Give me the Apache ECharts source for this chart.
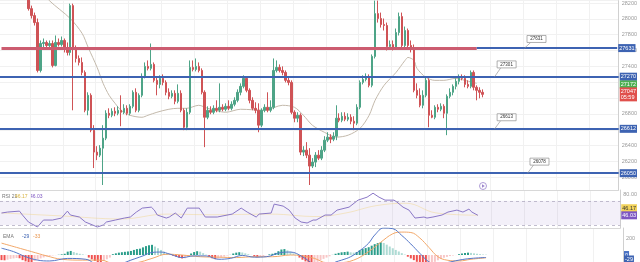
<!DOCTYPE html>
<html><head><meta charset="utf-8">
<script src="https://cdn.jsdelivr.net/npm/echarts/dist/echarts.min.js"></script>
<style>html,body{margin:0;padding:0;background:#fff;overflow:hidden}#c{width:640px;height:262px}</style>
</head><body><div id="c"></div>
<script>
// ---------- DATA ----------
const categoryCount = 207;
const categories = Array.from({length: categoryCount}, (_, i) => String(i));
const candleStartIndex = 9;
// [open, close, low, high]
const candles = [
[28293,28129,28104,28356],[28129,28041,28004,28167],[28041,27953,27916,28079],[27953,27349,27324,28004],
[27349,27689,27324,27727],[27689,27702,27626,27752],[27702,27664,27639,27727],[27664,27689,27639,27727],
[27689,27412,27387,27727],[27412,27702,27400,27790],[27702,27676,27651,27752],[27676,27727,27651,27777],
[27727,27626,27576,27752],[27626,27576,27538,27702],[27576,28167,27538,28192],[28167,27626,26846,28192],
[27626,27500,27450,27664],[27500,27450,27412,27538],[27450,27324,27287,27513],[27324,26846,26821,27349],
[26846,27035,26783,27073],[27035,26595,26569,27060],[26595,26318,26117,26658],[26318,26280,26217,26393],
[26280,26368,26255,26406],[26368,26494,25903,26658],[26494,26808,26469,26846],[26808,26783,26746,26871],
[26783,26834,26758,26871],[26834,26808,26771,26884],[26808,26846,26783,26896],[26846,26821,26645,27035],
[26821,26871,26796,26922],[26871,26808,26783,26909],[26808,26896,26783,26922],[26896,27073,26871,27098],
[27073,26846,26821,27123],[26846,27035,26821,27060],[27035,27274,27010,27312],[27274,27400,27249,27450],
[27400,27375,27349,27475],[27375,27425,27349,27689],[27425,27224,27198,27450],[27224,27173,27035,27274],
[27173,27249,27123,27287],[27249,27198,27161,27299],[27198,27073,27035,27224],[27073,27022,26985,27123],
[27022,27060,26997,27098],[27060,26959,26922,27098],[26959,27060,26934,27173],[27060,26846,26821,27098],
[26846,26632,26595,26871],[26632,26821,26595,26871],[26821,27387,26796,27475],[27387,27362,27337,27475],
[27362,27400,27337,27500],[27400,27349,27324,27450],[27349,27073,27047,27375],[27073,26758,26381,27098],
[26758,26846,26733,26896],[26846,26821,26796,26896],[26821,26871,26796,26909],[26871,26846,26821,26972],
[26846,26884,26821,27186],[26884,26859,26834,26922],[26859,26896,26834,26934],[26896,26871,26846,26972],
[26871,26922,26846,26959],[26922,26972,26896,27010],[26972,27073,26947,27110],[27073,27148,27035,27186],
[27148,27249,27123,27287],[27249,27098,27073,27274],[27098,26972,26934,27123],[26972,26871,26846,27010],
[26871,26846,26808,26947],[26846,26658,26569,26934],[26658,26846,26632,26871],[26846,26884,26821,26922],
[26884,26846,26821,27073],[26846,26884,26821,26972],[26884,27349,26859,27500],[27349,27387,27324,27475],
[27387,27349,27324,27425],[27349,27324,27287,27400],[27324,27224,27198,27349],[27224,27198,27161,27274],
[27198,26821,26796,27224],[26821,26746,26695,26846],[26746,26783,26695,26821],[26783,26318,26280,26808],
[26318,26343,26268,26393],[26343,26280,26242,26444],[26280,26142,25903,26368],[26142,26192,26117,26242],
[26192,26280,26129,26318],[26280,26242,26217,26343],[26242,26343,26217,26393],[26343,26469,26318,26519],
[26469,26507,26444,26569],[26507,26481,26431,26544],[26481,26519,26456,26569],[26519,26746,26469,26909],
[26746,26720,26695,26808],[26720,26771,26695,26821],[26771,26733,26708,26821],[26733,26758,26708,26808],
[26758,26708,26670,26796],[26708,26683,26595,26771],[26683,26884,26658,26922],[26884,27198,26859,27224],
[27198,27236,27173,27287],[27236,27261,27211,27312],[27261,27161,27136,27299],[27161,27526,27136,27551],
[27526,28066,27500,28230],[28066,28004,27953,28230],[28004,27928,27890,28079],[27928,27916,27853,28004],
[27916,27651,27601,27953],[27651,27676,27626,27727],[27676,27639,27601,27727],[27639,27827,27614,27878],
[27827,28029,27790,28079],[28029,27664,27639,28079],[27664,27853,27639,27903],[27853,27664,27626,27878],
[27664,27626,27576,27727],[27626,27098,27073,27676],[27098,27035,26997,27186],[27035,26909,26884,27123],
[26909,27035,26871,27098],[27035,27224,27010,27274],[27224,26783,26632,27249],[26783,26758,26746,26846],
[26758,26884,26733,26909],[26884,26859,26821,26922],[26859,26896,26834,26934],[26896,26808,26746,26922],
[26808,27022,26532,27047],[27022,27073,26997,27123],[27073,27148,27035,27173],[27148,27211,27110,27249],
[27211,27261,27173,27299],[27261,27249,27224,27299],[27249,27173,27136,27287],[27173,27148,27123,27224],
[27148,27324,27123,27349],[27324,27136,27098,27349],[27136,27098,26972,27161],[27098,27073,26997,27136],
[27073,27047,27010,27110]
];
// moving average on price (sparse readings)
const maIdx = [14,16,23,27,29,32,34,36,38,40,43,47,49,52,56,59,62,66,69,75,80,88,94,98,101,104,108,112,116,120,123,125,128,132,135,136,138,139,142,145,148,152,155,159];
const maVal = [28330,28230,28004,27815,27639,27387,27186,27035,26934,26846,26783,26758,26783,26821,26859,26871,26871,26909,26871,26821,26859,26846,26909,26884,26783,26658,26569,26507,26532,26620,26783,26972,27161,27324,27475,27513,27475,27375,27261,27224,27224,27249,27224,27186];
// price levels
const resistanceLevel = 27631;
const levelLines = [27270, 26612, 26052];
const levelLabels = ['27270', '26612', '26050'];
const greenTag = 27172;
const lastPrice = 27047;
const countdown = '05:59';
const calloutText = ['27631', '27301', '26613', '26078'];
const calloutIdx = [179, 169, 169, 180];
const calloutPrice = [27746, 27425, 26758, 26198];
const calloutLineFrom = [[175, 27631], [165, 27270], [165, 26612], [176, 26052]];
const calloutLineTo = [[177, 27700], [167, 27380], [167, 26715], [178, 26155]];
// RSI
const rsiIdx = [0,2,6,7,9,12,14,17,20,22,23,26,28,32,34,35,38,41,43,45,47,50,51,52,55,56,58,60,62,66,68,72,77,80,82,85,86,90,91,94,96,98,100,102,104,105,108,110,112,116,119,122,124,126,128,131,132,134,136,138,141,142,144,147,149,152,154,156,157,159];
const rsiVal = [49.8,51.4,53,46.5,34.9,26.7,38.2,38.2,41.5,53,46.5,43.2,34.9,26.7,30,34.9,38.2,41.5,43.2,51.4,58,59.6,54.7,46.5,41.5,43.2,49.8,41.5,58,58,43.2,43.2,48.1,58,51.4,43.2,48.1,49.8,64.6,61.3,54.7,41.5,34.9,33.3,38.2,38.2,46.5,46.5,54.7,59.6,71.2,76.1,82.7,76.1,71.2,71.2,67.9,59.6,54.7,41.5,43.2,41.5,43.2,46.5,51.4,54.7,51.4,56.3,51.4,46.03];
const rsiMaIdx = [0,20,40,55,70,90,105,115,125,135,145,159];
const rsiMaVal = [50,45,40,48,47,48,44,50,62,66,50,46.17];
const rsiUpper = 70, rsiLower = 30;
// MACD
const histogram = [
-60,-62,-55,-45,-40,-35,-38,-60,-75,-85,-90,-70,-55,-40,-28,-18,-10,-5,-2,3,8,15,40,48,35,25,15,8,2,
-30,-50,-70,-85,-95,-70,-50,-30,10,20,28,33,38,42,48,60,70,75,90,105,115,120,100,80,60,40,20,5,-8,-18,
-30,-40,-38,-20,18,35,45,40,22,5,-20,-38,-48,-42,-30,-18,-6,2,18,28,33,30,20,10,2,-18,-28,-24,-12,
-2,8,15,25,45,65,70,55,40,20,5,-30,-55,-75,-90,-100,-92,-80,-62,-45,-30,-15,2,15,25,32,36,40,32,28,35,
55,70,82,92,110,128,140,150,142,122,100,80,60,42,22,6,-20,-40,-60,-80,-98,-110,-118,-104,-92,-80,
-62,-45,-32,-22,-12,-6,-1,10,18,24,28,25,20,15,10,6,4];
const macdIdx = [0,4,8,12,16,22,28,33,38,43,47,50,53,56,60,64,68,72,76,80,84,88,93,96,100,104,108,111,113,116,119,122,124,127,130,133,136,139,142,145,148,152,156,161];
const macdVal = [80,40,-20,-60,-70,-40,-50,-130,-120,-60,-10,30,35,10,-30,-10,-10,-50,-40,-5,-25,-20,30,35,-20,-110,-130,-82,-60,-20,50,140,235,318,310,230,130,20,-80,-110,-90,-60,-40,-29];
const signalIdx = [0,5,10,15,20,27,33,38,45,50,55,60,66,72,78,84,90,96,100,104,108,112,117,122,126,130,133,136,139,142,145,148,152,156,161];
const signalVal = [140,90,40,-10,-50,-60,-60,-110,-90,-40,10,0,-20,-25,-30,-20,-20,0,-10,-40,-90,-90,-60,40,150,250,270,265,200,90,-20,-60,-70,-50,-33];

// ---------- BUILD ----------
function sparse(idx, val){ const a = new Array(categoryCount).fill(null); idx.forEach((k,j)=>{a[k]=val[j];}); return a; }
const candleData = new Array(categoryCount).fill('-');
candles.forEach((c,j)=>{ candleData[candleStartIndex+j] = c; });
const histData = histogram.map((v,i)=>{
  const p = i>0 ? histogram[i-1] : v;
  let col;
  if (v >= 0) col = v >= p ? '#2a9d8a' : '#aedbd4';
  else col = v <= p ? '#f0514f' : '#f8c6c6';
  return {value: v, itemStyle: {color: col}};
});
const FONT = 'Arial, "Liberation Sans", sans-serif';
const HIDDEN = {color:'rgba(0,0,0,0)', width:0, type:'solid'};
const tagLabel = (txt, bg, fg) => ({show:true, position:'end', distance:1, formatter: txt, color: fg||'#fff', backgroundColor: bg, fontSize: 5.5, fontFamily: FONT, padding:[1,1,1,1], lineHeight: 6, opacity:1});
const vSplit = {show:true, interval:(i)=> i % 11 === 10, lineStyle:{color:'#f1f1f1', width:1}};
const solid = (color, width) => ({color, width, type:'solid', opacity:1});

const mainLines = [
  [{coord:[0, resistanceLevel], lineStyle: solid('#cc5c70', 3)}, {coord:[159, resistanceLevel]}],
  [{coord:[159, resistanceLevel], lineStyle: solid('#3d63b2', 2), label: tagLabel(String(resistanceLevel), '#3d63b2')}, {coord:[categoryCount-1, resistanceLevel]}],
];
levelLines.forEach((v,j)=>{ mainLines.push({yAxis: v, lineStyle: solid('#3d63b2', 2), label: tagLabel(levelLabels[j], '#3d63b2')}); });
mainLines.push({yAxis: greenTag, lineStyle: HIDDEN, label: tagLabel(String(greenTag), '#4caf50')});
mainLines.push({yAxis: lastPrice, lineStyle: HIDDEN, label: tagLabel(lastPrice + '\n' + countdown, '#e0504c')});
calloutLineFrom.forEach((f,j)=>{ mainLines.push([{coord:f, lineStyle: solid('#9a9a9a', 0.7)}, {coord:calloutLineTo[j]}]); });

const option = {
  animation: false,
  backgroundColor: '#ffffff',
  textStyle: {fontFamily: FONT},
  grid: [
    {left:0, right:17, top:0, height:190},
    {left:0, right:17, top:190, height:38},
    {left:0, right:17, top:228, height:34}
  ],
  xAxis: [0,1,2].map(g => ({type:'category', gridIndex:g, data:categories, boundaryGap:true,
    axisLabel:{show:false}, axisTick:{show:false},
    axisLine:{show: g<2, lineStyle:{color:'#d8d8d8', width:1}}, splitLine: vSplit})),
  yAxis: [
    {type:'value', gridIndex:0, position:'right', min:25840, max:28230, minInterval:200, maxInterval:200, scale:true,
      axisLine:{show:true, lineStyle:{color:'#d0d0d0'}}, axisTick:{show:false},
      axisLabel:{fontSize:5.5, color:'#9a9a9a', margin:3, showMinLabel:false, showMaxLabel:false, formatter:(v)=>String(v)},
      splitLine:{lineStyle:{color:'#f1f1f1'}}},
    {type:'value', gridIndex:1, position:'right', min:25, max:88, minInterval:20, maxInterval:20,
      axisLine:{show:true, lineStyle:{color:'#d0d0d0'}}, axisTick:{show:false},
      axisLabel:{fontSize:5.5, color:'#9a9a9a', margin:3, formatter:(v)=> v===80 ? '80.00' : ''},
      splitLine:{show:false}},
    {type:'value', gridIndex:2, position:'right', min:-82, max:318, minInterval:200, maxInterval:200,
      axisLine:{show:true, lineStyle:{color:'#d0d0d0'}}, axisTick:{show:false},
      axisLabel:{fontSize:5.5, color:'#9a9a9a', margin:3, formatter:(v)=> v===200 ? '200' : ''},
      splitLine:{show:false}}
  ],
  series: [
    {type:'line', xAxisIndex:0, yAxisIndex:0, data: sparse(maIdx, maVal), connectNulls:true, showSymbol:false,
      smooth:0.3, lineStyle:{color:'#c3b9ab', width:1}, z:2, silent:true},
    {type:'candlestick', xAxisIndex:0, yAxisIndex:0, data: candleData, barWidth:2, clip:true, z:3,
      itemStyle:{color:'#4ea487', color0:'#cf5356', borderColor:'#4ea487', borderColor0:'#cf5356', borderWidth:1},
      markLine:{silent:true, symbol:['none','none'], animation:false, precision:0, data: mainLines, z:5},
      markPoint:{silent:true, symbol:'rect', symbolSize:[19,7], animation:false,
        itemStyle:{color:'#ffffff', borderColor:'#8c8c8c', borderWidth:0.6},
        label:{show:true, position:'inside', fontSize:4.5, color:'#333', fontFamily:FONT, formatter:(p)=>p.name},
        data: calloutText.map((t,j)=>({name:t, coord:[calloutIdx[j], calloutPrice[j]]}))}
    },
    {type:'line', xAxisIndex:1, yAxisIndex:1, data: sparse(rsiMaIdx, rsiMaVal), connectNulls:true, showSymbol:false,
      smooth:0.4, lineStyle:{color:'#f0d58c', width:0.8, opacity:0.6}, silent:true},
    {type:'line', xAxisIndex:1, yAxisIndex:1, data: sparse(rsiIdx, rsiVal), connectNulls:true, showSymbol:false,
      lineStyle:{color:'#8a77c6', width:1}, silent:true,
      markArea:{silent:true, itemStyle:{color:'rgba(126,87,194,0.09)'}, data:[[{yAxis:rsiLower},{yAxis:rsiUpper}]]},
      markLine:{silent:true, symbol:['none','none'], precision:2, data:[
        {yAxis:rsiUpper, lineStyle:{color:'#a9a3bb', type:[3,3], width:0.7}, label:{show:false}},
        {yAxis:rsiLower, lineStyle:{color:'#a9a3bb', type:[3,3], width:0.7}, label:{show:false}},
        {yAxis:46.17, lineStyle: HIDDEN, label: Object.assign(tagLabel('46.17', '#f2d35b', '#333'), {offset:[0,-7]})},
        {yAxis:46.03, lineStyle: HIDDEN, label: tagLabel('46.03', '#7e57c2')}
      ]}},
    {type:'bar', xAxisIndex:2, yAxisIndex:2, data: histData, barWidth:2, clip:true, silent:true},
    {type:'line', xAxisIndex:2, yAxisIndex:2, data: sparse(signalIdx, signalVal), connectNulls:true, showSymbol:false,
      smooth:0.4, lineStyle:{color:'#f2a86a', width:1}, silent:true},
    {type:'line', xAxisIndex:2, yAxisIndex:2, data: sparse(macdIdx, macdVal), connectNulls:true, showSymbol:false,
      smooth:0.4, lineStyle:{color:'#5577c8', width:1}, silent:true,
      markLine:{silent:true, symbol:['none','none'], data:[
        {yAxis:0, lineStyle: HIDDEN, label: tagLabel('0', '#4a72c4')},
        {yAxis:-29, lineStyle: HIDDEN, label: Object.assign(tagLabel('-29', '#3d63b2'), {offset:[0,2]})}
      ]}}
  ],
  graphic: [
    {type:'text', left:2, top:194, style:{text:'RSI 21', fontSize:5, fill:'#777', fontFamily:FONT}},
    {type:'text', left:15, top:194, style:{text:'46.17', fontSize:5, fill:'#d8b440', fontFamily:FONT}},
    {type:'text', left:30, top:194, style:{text:'46.03', fontSize:5, fill:'#7e57c2', fontFamily:FONT}},
    {type:'text', left:3, top:234, style:{text:'EMA', fontSize:5, fill:'#777', fontFamily:FONT}},
    {type:'text', left:22, top:234, style:{text:'-29', fontSize:5, fill:'#3d63b2', fontFamily:FONT}},
    {type:'text', left:33, top:234, style:{text:'-33', fontSize:5, fill:'#e8954d', fontFamily:FONT}},
    {type:'circle', shape:{cx:483, cy:186, r:3.5}, style:{fill:'#fff', stroke:'#9b84cc', lineWidth:0.8}},
    {type:'polygon', shape:{points:[[482,184.3],[482,187.7],[484.8,186]]}, style:{fill:'#9b84cc'}}
  ]
};
const chart = echarts.init(document.getElementById('c'), null, {renderer:'canvas'});
chart.setOption(option);
</script>
</body></html>
